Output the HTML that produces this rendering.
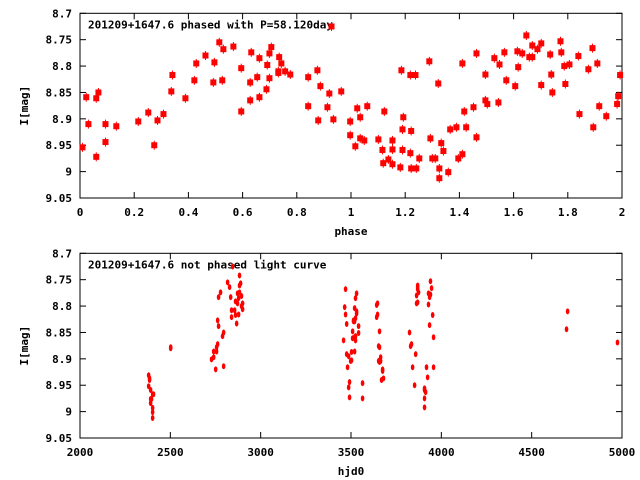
<!DOCTYPE html>
<html><head><meta charset="utf-8"><style>
body{margin:0;background:#fff}
svg{display:block;font-family:"DejaVu Sans Mono","Liberation Mono",monospace;font-size:11px;font-weight:bold}
</style></head><body>
<svg id="c" width="640" height="480" xmlns="http://www.w3.org/2000/svg"></svg>
<script>
const topPhase=[0.009,0.023,0.031,0.060,0.060,0.068,0.094,0.094,0.134,0.215,0.252,0.274,0.286,0.308,0.337,0.341,0.389,0.422,0.429,0.463,0.492,0.496,0.514,0.525,0.529,0.566,0.595,0.595,0.628,0.632,0.628,0.654,0.662,0.662,0.688,0.691,0.699,0.699,0.706,0.732,0.732,0.735,0.743,0.757,0.776,0.842,0.842,0.876,0.879,0.887,0.913,0.920,0.928,0.935,0.964,0.997,0.997,
1.016,1.023,1.034,1.034,1.049,1.060,1.101,1.116,1.119,1.123,1.138,1.153,1.153,1.153,1.182,1.186,1.190,1.190,1.193,1.219,1.222,1.222,1.219,1.238,1.241,1.252,1.289,1.293,1.300,1.311,1.322,1.326,1.326,1.333,1.341,1.359,1.366,1.389,1.396,1.411,1.411,1.418,1.425,1.452,1.463,1.463,1.496,1.496,1.503,1.529,1.544,1.548,1.566,1.573,1.606,1.614,1.617,1.632,1.647,1.658,1.669,1.669,1.688,1.702,1.702,1.735,1.739,1.743,1.773,1.776,1.787,1.791,1.806,1.839,1.843,1.876,1.891,1.894,1.909,1.916,1.942,1.982,1.986,1.993];
const topMag=[8.954,8.859,8.910,8.972,8.861,8.850,8.910,8.944,8.914,8.905,8.888,8.950,8.903,8.891,8.848,8.817,8.861,8.827,8.795,8.780,8.831,8.793,8.755,8.827,8.768,8.763,8.804,8.886,8.831,8.774,8.865,8.821,8.785,8.859,8.844,8.798,8.776,8.823,8.764,8.810,8.813,8.783,8.795,8.810,8.816,8.821,8.876,8.808,8.903,8.838,8.878,8.852,8.725,8.901,8.848,8.905,8.931,
8.952,8.880,8.937,8.897,8.941,8.876,8.939,8.959,8.984,8.886,8.977,8.941,8.958,8.986,8.992,8.808,8.920,8.959,8.897,8.965,8.994,8.923,8.817,8.817,8.994,8.975,8.791,8.937,8.975,8.975,8.833,8.994,9.0125,8.946,8.961,9.001,8.920,8.916,8.975,8.967,8.795,8.886,8.916,8.878,8.776,8.935,8.865,8.816,8.872,8.785,8.869,8.797,8.774,8.827,8.838,8.772,8.802,8.776,8.742,8.783,8.761,8.783,8.768,8.757,8.836,8.778,8.816,8.850,8.753,8.774,8.800,8.834,8.797,8.781,8.891,8.806,8.766,8.916,8.795,8.876,8.895,8.872,8.857,8.817];
const botHjd=[2380,2385,2385,2380,2391,2391,2402,2407,2391,2396,2402,2402,2402,2502,2502,
2728,2740,2740,2756,2751,2762,2756,2762,2767,2767,2778,2789,2795,2795,2817,2828,2834,2845,2839,2839,2856,2861,2861,2867,2872,2872,2878,2878,2883,2883,2883,2889,2894,2894,2900,2900,
3470,3465,3470,3476,3459,3476,3487,3481,3492,3487,3492,3509,3509,3503,3498,3503,3520,3520,3520,3520,3525,3525,3525,3531,3531,3531,3525,3514,3514,3542,3542,3564,3564,
3642,3647,3647,3642,3658,3653,3658,3653,3658,3664,3664,3675,3675,3669,3680,
3824,3830,3835,3858,3841,3852,3863,3869,3863,3869,3869,3869,3874,3907,3907,3913,3907,3907,3918,3924,3929,3929,3935,3935,3940,3940,3946,3952,3957,3957,4699,4693,4975];
const botMag=[8.931,8.937,8.940,8.952,8.959,8.976,8.967,8.967,8.984,8.976,8.993,9.001,9.012,8.878,8.880,
8.901,8.897,8.886,8.886,8.920,8.872,8.878,8.827,8.838,8.783,8.774,8.857,8.850,8.914,8.755,8.764,8.783,8.725,8.808,8.821,8.808,8.817,8.791,8.833,8.795,8.776,8.816,8.785,8.742,8.774,8.761,8.757,8.781,8.800,8.795,8.806,
8.768,8.802,8.816,8.834,8.865,8.891,8.895,8.916,8.944,8.954,8.973,8.848,8.861,8.887,8.904,8.903,8.886,8.804,8.829,8.859,8.857,8.865,8.785,8.776,8.810,8.814,8.823,8.829,8.827,8.838,8.851,8.946,8.975,
8.798,8.795,8.816,8.821,8.848,8.876,8.878,8.904,8.906,8.897,8.904,8.920,8.923,8.940,8.937,
8.850,8.876,8.872,8.891,8.916,8.950,8.780,8.793,8.795,8.764,8.761,8.768,8.774,8.956,8.959,8.963,8.975,8.992,8.916,8.935,8.797,8.776,8.783,8.836,8.778,8.753,8.766,8.817,8.859,8.916,8.810,8.844,8.869];
const yTicks=[8.7,8.75,8.8,8.85,8.9,8.95,9,9.05];
const topXTicks=[0,0.2,0.4,0.6,0.8,1,1.2,1.4,1.6,1.8,2];
const botXTicks=[2000,2500,3000,3500,4000,4500,5000];

const svg=document.getElementById('c');
const NS='http://www.w3.org/2000/svg';
function mk(tag,attrs,parent){const e=document.createElementNS(NS,tag);for(const k in attrs)e.setAttribute(k,attrs[k]);(parent||svg).appendChild(e);return e;}
const L=80,R=622;
function panel(top,bot,xmin,xmax,xt,fmtX,title,xlabel,prefix){
  const sx=v=>L+(v-xmin)/(xmax-xmin)*(R-L);
  const sy=v=>top+(v-8.7)/0.35*(bot-top);
  const g=mk('g',{});
  
  
  yTicks.forEach(t=>{
    const y=sy(t);
    const l1=mk('line',{x1:L,x2:L+6,y1:y,y2:y,stroke:'#000'},g);
    
    const l2=mk('line',{x1:R,x2:R-6,y1:y,y2:y,stroke:'#000'},g);
    
    const tx=mk('text',{x:L-8,y:y+4,'text-anchor':'end'},g);
    
    tx.textContent=String(t);
  });
  xt.forEach(t=>{
    const x=sx(t);
    const l1=mk('line',{x1:x,x2:x,y1:bot,y2:bot-6,stroke:'#000'},g);
    
    const l2=mk('line',{x1:x,x2:x,y1:top,y2:top+6,stroke:'#000'},g);
    
    const tx=mk('text',{x:x,y:bot+18,'text-anchor':'middle'},g);
    
    tx.textContent=fmtX(t);
  });
  const fr=mk('rect',{x:L,y:top,width:R-L,height:bot-top,fill:'none',stroke:'#000'},g);
  
  const ti=mk('text',{x:88,y:top+15},g);
  
  ti.textContent=title;
  const xl=mk('text',{x:(L+R)/2,y:bot+37,'text-anchor':'middle'},g);
  
  xl.textContent=xlabel;
  const yc=(top+bot)/2;
  const yl=mk('text',{x:28,y:yc,'text-anchor':'middle',transform:'rotate(-90 28 '+yc+')'},g);
  
  yl.textContent='I[mag]';
  return {sx,sy,g};
}
const A=panel(13.3,198,0,2,topXTicks,t=>String(t),'201209+1647.6 phased with P=58.120day','phase','phased');
topPhase.forEach((p,i)=>{
  const x=A.sx(p),y=A.sy(topMag[i]);
  const m=mk('g',{},A.g);
  
  
  mk('rect',{x:x-3,y:y-3,width:6,height:6,fill:'#f00'},m);
  mk('line',{x1:x,x2:x,y1:y-4.5,y2:y+4.5,stroke:'#f00','stroke-width':1},m);
});
const B=panel(253.3,438,2000,5000,botXTicks,t=>String(t),'201209+1647.6 not phased light curve','hjd0','raw');
botHjd.forEach((h,i)=>{
  const x=B.sx(h),y=B.sy(botMag[i]);
  const e=mk('ellipse',{cx:x,cy:y,rx:1.8,ry:3,fill:'#f00'},B.g);
  
  
});
</script>
</body></html>
